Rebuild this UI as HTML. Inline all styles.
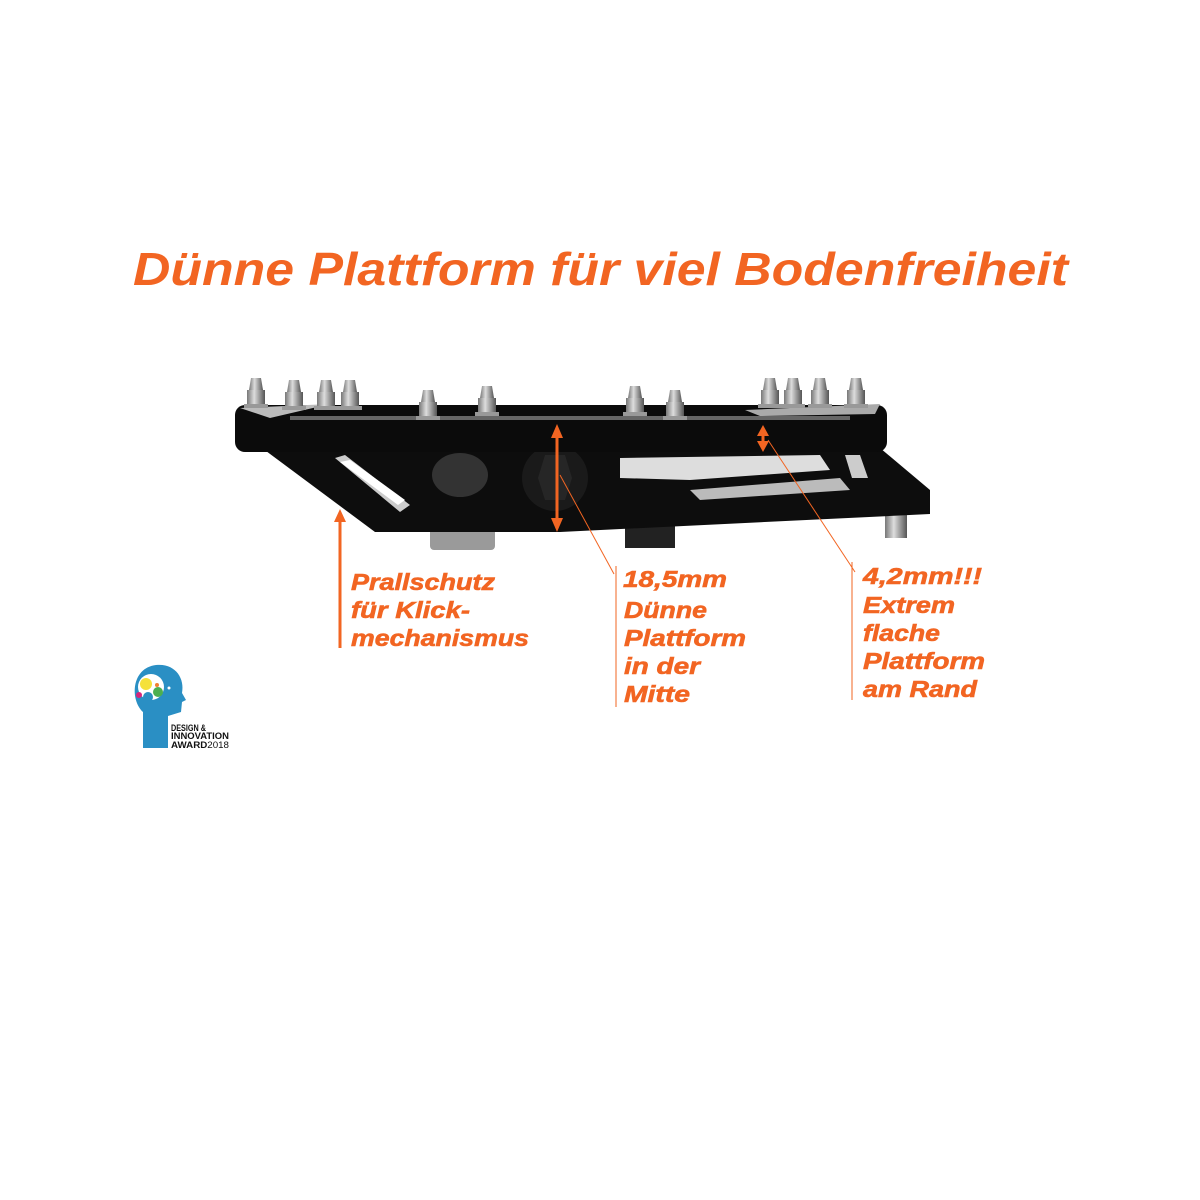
<!DOCTYPE html>
<html><head><meta charset="utf-8"><style>
html,body{margin:0;padding:0;background:#fff;width:1200px;height:1200px;overflow:hidden}
svg{display:block}
.t{font-family:"Liberation Sans",sans-serif;font-weight:bold;font-style:italic;fill:#f26522}
.l{stroke:#f26522;stroke-width:0.6}
</style></head><body>
<svg width="1200" height="1200" viewBox="0 0 1200 1200">
<defs>
<linearGradient id="sp" x1="0" x2="1"><stop offset="0" stop-color="#777"/><stop offset=".4" stop-color="#ddd"/><stop offset="1" stop-color="#555"/></linearGradient>
<g id="spike"><rect x="-9" y="0" width="18" height="14" fill="url(#sp)"/><polygon points="-7,0 -5,-12 5,-12 7,0" fill="url(#sp)"/><rect x="-12" y="14" width="24" height="4" fill="#999"/></g>
</defs>
<text class="t" x="133" y="285" font-size="46" textLength="935" lengthAdjust="spacingAndGlyphs">Dünne Plattform für viel Bodenfreiheit</text>
<rect x="430" y="520" width="65" height="30" fill="#9a9a9a" rx="4"/>
<rect x="625" y="520" width="50" height="28" fill="#222"/>
<rect x="885" y="510" width="22" height="28" fill="url(#sp)"/>
<polygon points="262,448 880,448 930,490 930,514 560,532 375,532" fill="#0d0d0d"/>
<polygon points="335,458 345,455 410,505 400,512" fill="#ccc"/>
<polygon points="340,462 350,460 405,500 398,505" fill="#fff"/>
<polygon points="620,458 820,455 830,470 690,480 620,478" fill="#ddd"/>
<polygon points="690,490 840,478 850,490 700,500" fill="#bbb"/>
<polygon points="845,455 860,455 868,478 852,478" fill="#ccc"/>
<ellipse cx="460" cy="475" rx="28" ry="22" fill="#333"/>
<circle cx="555" cy="478" r="33" fill="#1a1a1a"/>
<polygon points="545,455 565,455 572,478 565,500 545,500 538,478" fill="#262626"/>
<rect x="235" y="405" width="652" height="47" rx="10" fill="#0b0b0b"/>
<polygon points="240,408 330,404 270,418" fill="#bbb"/>
<polygon points="745,410 880,404 875,414 760,416" fill="#aaa"/>
<rect x="290" y="416" width="560" height="4" fill="#666"/>
<use href="#spike" transform="translate(256,390)"/>
<use href="#spike" transform="translate(294,392)"/>
<use href="#spike" transform="translate(326,392)"/>
<use href="#spike" transform="translate(350,392)"/>
<use href="#spike" transform="translate(428,402)"/>
<use href="#spike" transform="translate(487,398)"/>
<use href="#spike" transform="translate(635,398)"/>
<use href="#spike" transform="translate(675,402)"/>
<use href="#spike" transform="translate(770,390)"/>
<use href="#spike" transform="translate(793,390)"/>
<use href="#spike" transform="translate(820,390)"/>
<use href="#spike" transform="translate(856,390)"/>
<g stroke="#f26522" fill="#f26522">
<line x1="340" y1="520" x2="340" y2="648" stroke-width="3"/>
<polygon points="340,509 334,522 346,522" stroke="none"/>
<line x1="557" y1="436" x2="557" y2="520" stroke-width="3"/>
<polygon points="557,424 551,438 563,438" stroke="none"/>
<polygon points="557,532 551,518 563,518" stroke="none"/>
<line x1="763" y1="434" x2="763" y2="444" stroke-width="3"/>
<polygon points="763,425 757,436 769,436" stroke="none"/>
<polygon points="763,452 757,441 769,441" stroke="none"/>
<line x1="560" y1="475" x2="614" y2="574" stroke-width="1"/>
<line x1="616" y1="566" x2="616" y2="707" stroke-width="1"/>
<line x1="768" y1="440" x2="855" y2="572" stroke-width="1"/>
<line x1="852" y1="562" x2="852" y2="700" stroke-width="1"/>
</g>
<g class="t l" font-size="23">
<text x="351" y="590" textLength="144" lengthAdjust="spacingAndGlyphs">Prallschutz</text>
<text x="351" y="618" textLength="119" lengthAdjust="spacingAndGlyphs">für Klick-</text>
<text x="351" y="646" textLength="178" lengthAdjust="spacingAndGlyphs">mechanismus</text>
<text x="623" y="587" textLength="104" lengthAdjust="spacingAndGlyphs">18,5mm</text>
<text x="624" y="618" textLength="83" lengthAdjust="spacingAndGlyphs">Dünne</text>
<text x="624" y="646" textLength="122" lengthAdjust="spacingAndGlyphs">Plattform</text>
<text x="624" y="674" textLength="76" lengthAdjust="spacingAndGlyphs">in der</text>
<text x="624" y="702" textLength="66" lengthAdjust="spacingAndGlyphs">Mitte</text>
<text x="863" y="584" textLength="119" lengthAdjust="spacingAndGlyphs">4,2mm!!!</text>
<text x="863" y="613" textLength="92" lengthAdjust="spacingAndGlyphs">Extrem</text>
<text x="863" y="641" textLength="77" lengthAdjust="spacingAndGlyphs">flache</text>
<text x="863" y="669" textLength="122" lengthAdjust="spacingAndGlyphs">Plattform</text>
<text x="863" y="697" textLength="114" lengthAdjust="spacingAndGlyphs">am Rand</text>
</g>
<path d="M143,748 L143,712 C130,700 131,668 156,665 C175,663 185,678 182,693 L186,700 L182,702 L181,712 L168,716 L168,748 Z" fill="#2a8fc4"/>
<circle cx="151" cy="687" r="13" fill="#fff"/>
<circle cx="146" cy="684" r="6" fill="#f5e13a"/>
<circle cx="157" cy="685" r="2" fill="#f08030"/>
<circle cx="158" cy="692" r="5" fill="#4caf50"/>
<circle cx="139" cy="695" r="3" fill="#d6247a"/>
<circle cx="148" cy="697" r="5" fill="#2a8fc4"/>
<circle cx="169" cy="688" r="1.5" fill="#fff"/>
<g font-family="Liberation Sans,sans-serif" font-weight="bold" font-size="9" fill="#111">
<text x="171" y="731" textLength="35" lengthAdjust="spacingAndGlyphs">DESIGN &amp;</text>
<text x="171" y="739" textLength="58" lengthAdjust="spacingAndGlyphs">INNOVATION</text>
<text x="171" y="748" textLength="58" lengthAdjust="spacingAndGlyphs">AWARD<tspan font-weight="normal">2018</tspan></text>
</g>
</svg>
</body></html>
